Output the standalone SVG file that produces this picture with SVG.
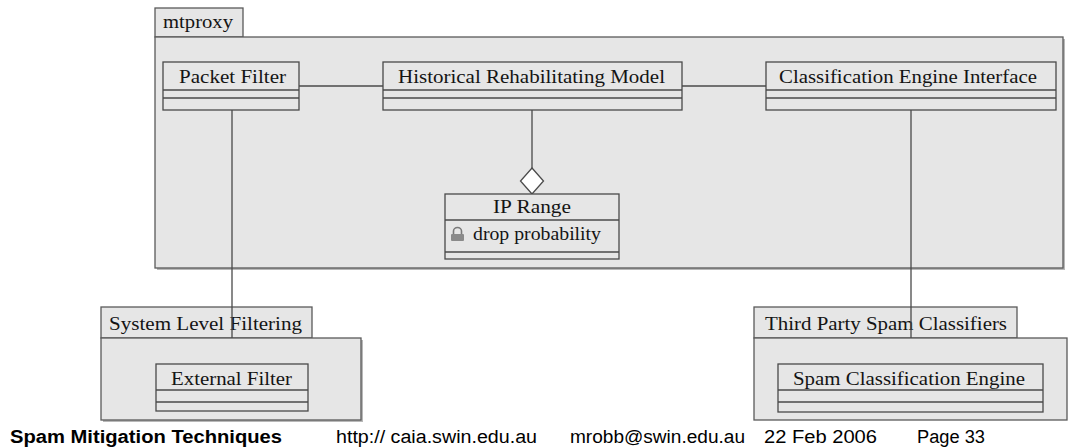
<svg xmlns="http://www.w3.org/2000/svg" width="1069" height="448" viewBox="0 0 1069 448">
  <defs>
    <style>
      .pkg { fill: #e6e6e6; stroke: #5a5a5a; stroke-width: 1.3; }
      .cls { fill: #e6e6e6; stroke: #4a4a4a; stroke-width: 1.3; }
      .sep { stroke: #4a4a4a; stroke-width: 1.3; fill: none; }
      .edge { stroke: #4a4a4a; stroke-width: 1.3; fill: none; }
      .lbl { font-family: "Liberation Serif", "DejaVu Serif", serif; font-size: 18px; fill: #141414; }
      .foot { font-family: "Liberation Sans", Arial, sans-serif; font-size: 18px; fill: #000; }
      .shadow { fill: #b8b8b8; }
    </style>
  </defs>
  <rect width="1069" height="448" fill="#ffffff"/>

  <!-- package: mtproxy -->
  <g id="pkg-mtproxy">
    <rect class="pkg" x="155" y="8" width="88" height="29"/>
    <rect class="shadow" x="157" y="39" width="908" height="231"/>
    <rect class="pkg" x="155" y="37" width="908" height="231"/>
    <text class="lbl" x="163" y="28" textLength="70" lengthAdjust="spacingAndGlyphs">mtproxy</text>
  </g>

  <!-- package: System Level Filtering -->
  <g id="pkg-system-level-filtering">
    <rect class="pkg" x="101" y="307" width="211" height="31"/>
    <rect class="shadow" x="103" y="340" width="260" height="82"/>
    <rect class="pkg" x="101" y="338" width="260" height="82"/>
    <text class="lbl" x="109" y="330" textLength="193" lengthAdjust="spacingAndGlyphs">System Level Filtering</text>
  </g>

  <!-- package: Third Party Spam Classifiers -->
  <g id="pkg-third-party">
    <rect class="pkg" x="754" y="307" width="263" height="31"/>
    <rect class="pkg" x="754" y="338" width="313" height="82"/>
    <text class="lbl" x="765" y="330" textLength="242" lengthAdjust="spacingAndGlyphs">Third Party Spam Classifiers</text>
  </g>

  <!-- associations -->
  <g id="connectors">
    <line class="edge" x1="299" y1="86" x2="383" y2="86"/>
    <line class="edge" x1="682" y1="86" x2="766" y2="86"/>
    <line class="edge" x1="532" y1="110" x2="532" y2="168"/>
    <polygon points="532,168 543.5,181 532,194 520.5,181" fill="#ffffff" stroke="#4a4a4a" stroke-width="1.3"/>
    <line class="edge" x1="232" y1="110" x2="232" y2="338"/>
    <line class="edge" x1="911" y1="110" x2="911" y2="338"/>
  </g>

  <!-- classes -->
  <g id="cls-packet-filter">
    <rect class="cls" x="163" y="62" width="136" height="48"/>
    <line class="sep" x1="163" y1="90" x2="299" y2="90"/>
    <line class="sep" x1="163" y1="98" x2="299" y2="98"/>
    <text class="lbl" x="179" y="83" textLength="107" lengthAdjust="spacingAndGlyphs">Packet Filter</text>
  </g>

  <g id="cls-historical-model">
    <rect class="cls" x="383" y="62" width="299" height="48"/>
    <line class="sep" x1="383" y1="90" x2="682" y2="90"/>
    <line class="sep" x1="383" y1="98" x2="682" y2="98"/>
    <text class="lbl" x="398" y="83" textLength="267" lengthAdjust="spacingAndGlyphs">Historical Rehabilitating Model</text>
  </g>

  <g id="cls-engine-interface">
    <rect class="cls" x="766" y="62" width="290" height="48"/>
    <line class="sep" x1="766" y1="90" x2="1056" y2="90"/>
    <line class="sep" x1="766" y1="98" x2="1056" y2="98"/>
    <text class="lbl" x="779" y="83" textLength="258" lengthAdjust="spacingAndGlyphs">Classification Engine Interface</text>
  </g>

  <g id="cls-ip-range">
    <rect class="cls" x="445" y="194" width="174" height="65"/>
    <line class="sep" x1="445" y1="220" x2="619" y2="220"/>
    <line class="sep" x1="445" y1="252" x2="619" y2="252"/>
    <text class="lbl" x="493" y="213" textLength="78" lengthAdjust="spacingAndGlyphs">IP Range</text>
    <!-- private attribute padlock -->
    <path d="M453.5,234 v-3 a4,3.5 0 0 1 8,0 v3" fill="none" stroke="#7a7a7a" stroke-width="1.6"/>
    <rect x="451" y="234" width="13" height="7" rx="1" fill="#8a8a8a"/>
    <text class="lbl" x="473" y="240" textLength="128" lengthAdjust="spacingAndGlyphs">drop probability</text>
  </g>

  <g id="cls-external-filter">
    <rect class="cls" x="156" y="364" width="152" height="47"/>
    <line class="sep" x1="156" y1="390" x2="308" y2="390"/>
    <line class="sep" x1="156" y1="402" x2="308" y2="402"/>
    <text class="lbl" x="171" y="385" textLength="121" lengthAdjust="spacingAndGlyphs">External Filter</text>
  </g>

  <g id="cls-spam-engine">
    <rect class="cls" x="778" y="364" width="265" height="48"/>
    <line class="sep" x1="778" y1="390" x2="1043" y2="390"/>
    <line class="sep" x1="778" y1="402" x2="1043" y2="402"/>
    <text class="lbl" x="793" y="385" textLength="232" lengthAdjust="spacingAndGlyphs">Spam Classification Engine</text>
  </g>

  <!-- slide footer -->
  <g id="footer">
    <text class="foot" x="10" y="443" font-weight="bold" textLength="272" lengthAdjust="spacingAndGlyphs">Spam Mitigation Techniques</text>
    <text class="foot" x="336" y="443" textLength="201" lengthAdjust="spacingAndGlyphs">http:// caia.swin.edu.au</text>
    <text class="foot" x="570" y="443" textLength="175" lengthAdjust="spacingAndGlyphs">mrobb@swin.edu.au</text>
    <text class="foot" x="764" y="443" textLength="113" lengthAdjust="spacingAndGlyphs">22 Feb 2006</text>
    <text class="foot" x="917" y="443" textLength="68" lengthAdjust="spacingAndGlyphs">Page 33</text>
  </g>
</svg>
